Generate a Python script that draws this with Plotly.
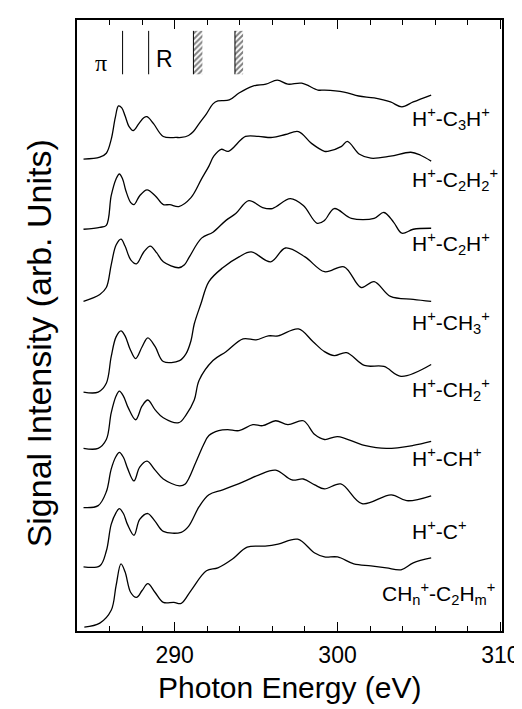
import plotly.graph_objects as go

# ---------------- data ----------------
E_C3H = [284.4, 285.4, 285.8, 286.1, 286.35, 286.55, 286.75, 286.95, 287.2, 287.45, 287.8, 288.1, 288.3, 288.7, 289.3,
         290.1, 290.4, 290.85, 291.15, 291.5, 291.95, 292.35, 292.65, 293.35, 293.95, 294.8, 295.6,
         296.3, 296.95, 297.8, 298.8, 299.2, 300.4, 301.3, 302.25, 303.25, 303.95, 304.65, 305.75]
I_C3H = [47.8, 48.0, 48.4, 49.8, 52.0, 53.2, 53.0, 52.2, 51.1, 50.7, 51.4, 52.0, 52.1, 51.4, 50.1,
         50.0, 50.0, 50.2, 50.6, 51.4, 52.4, 53.4, 53.7, 53.8, 54.5, 55.2, 55.4,
         55.8, 55.4, 55.5, 54.8, 54.8, 54.6, 54.2, 54.0, 53.6, 53.1, 53.6, 54.3]

E_C2H2 = [284.4, 285.4, 285.8, 286.1, 286.4, 286.6, 286.8, 287.0, 287.3, 287.5, 287.85, 288.3, 288.8, 289.3,
          289.7, 290.25, 291.0, 291.65, 292.1, 292.4, 292.85, 293.3, 294.35, 295.15, 296.0, 296.8,
          297.6, 298.4, 299.2, 299.4, 300.25, 300.6, 301.35, 302.05, 303.25, 304.5, 305.1, 305.75]
I_C2H2 = [40.7, 40.9, 41.1, 44.1, 45.8, 46.3, 45.8, 44.6, 43.4, 43.2, 44.1, 44.7, 44.1, 43.2,
          43.2, 43.0, 43.9, 45.8, 47.1, 48.1, 48.8, 48.6, 50.1, 50.1, 50.0, 50.3,
          50.6, 49.4, 48.6, 48.6, 49.1, 49.6, 48.3, 47.9, 48.1, 48.5, 48.2, 47.6]

E_C2H = [284.4, 285.4, 285.8, 286.1, 286.4, 286.7, 286.95, 287.3, 287.65, 288.1, 288.5, 288.9, 289.3,
         290.25, 290.6, 290.9, 291.65, 292.35, 293.15, 293.75, 294.55, 295.4, 296.0, 297.1, 297.9,
         298.75, 299.2, 299.8, 300.85, 302.25, 302.85, 303.45, 303.95, 304.65, 305.75]
I_C2H = [33.4, 34.1, 34.8, 37.1, 39.1, 39.7, 39.0, 37.6, 37.2, 38.4, 39.0, 38.3, 37.4,
         36.8, 37.1, 37.9, 39.8, 40.4, 41.6, 42.3, 43.6, 42.9, 42.8, 43.8, 43.1,
         41.3, 41.6, 42.8, 41.8, 41.8, 42.4, 41.4, 40.3, 40.7, 40.8]

E_CH3 = [284.4, 285.3, 285.8, 286.1, 286.4, 286.7, 286.95, 287.25, 287.6, 288.0, 288.35, 288.8, 289.3,
         290.3, 290.7, 291.0, 291.2, 291.6, 292.1, 292.95, 293.95, 294.7, 295.9, 296.8, 298.0,
         299.2, 300.4, 301.45, 302.25, 303.25, 304.65, 305.75]
I_CH3 = [24.2, 24.2, 25.1, 27.8, 29.8, 30.4, 29.9, 28.6, 27.6, 28.8, 29.7, 28.8, 27.3,
         27.4, 28.1, 29.4, 31.1, 33.1, 35.4, 36.8, 37.9, 38.4, 37.4, 38.8, 37.9,
         36.4, 36.9, 34.8, 35.4, 33.9, 33.6, 33.4]

E_CH2 = [284.4, 285.3, 285.8, 286.1, 286.4, 286.6, 286.85, 287.15, 287.6, 288.0, 288.35, 288.8, 289.3,
         290.25, 290.7, 291.2, 291.5, 292.35, 293.15, 294.2, 295.0, 295.75, 296.35, 297.6, 298.5,
         299.2, 299.8, 300.55, 301.65, 302.85, 303.9, 305.75]
I_CH2 = [18.5, 18.5, 19.4, 22.1, 23.8, 24.3, 23.8, 22.6, 21.4, 22.8, 23.4, 22.4, 21.6,
         21.1, 21.9, 23.4, 25.4, 27.4, 28.3, 29.6, 29.5, 29.9, 29.9, 30.6, 29.3,
         28.3, 27.9, 28.2, 26.9, 26.8, 25.8, 27.0]

E_CH = [284.4, 285.3, 285.8, 286.1, 286.4, 286.6, 286.85, 287.1, 287.5, 287.85, 288.3, 288.8, 289.3,
        290.3, 290.65, 291.3, 291.75, 292.1, 292.7, 293.25, 293.95, 294.8, 295.4, 296.2, 296.95,
        297.9, 298.6, 299.2, 300.0, 301.65, 303.0, 304.65, 305.75]
I_CH = [12.5, 12.7, 14.1, 16.4, 17.7, 18.1, 17.6, 16.5, 15.2, 16.6, 17.2, 16.3, 15.4,
        14.7, 14.9, 17.1, 18.8, 19.8, 20.3, 20.4, 20.3, 20.9, 20.8, 21.3, 20.9,
        21.3, 19.9, 19.4, 19.7, 18.8, 18.5, 18.8, 19.2]

E_C = [284.4, 285.4, 285.8, 286.1, 286.4, 286.6, 286.85, 287.1, 287.5, 287.85, 288.35, 288.8, 289.3,
       290.4, 290.85, 291.5, 292.1, 292.95, 294.2, 295.15, 296.2, 297.2, 297.9, 298.6, 299.2,
       300.2, 301.5, 303.3, 304.25, 305.75]
I_C = [6.5, 6.6, 8.1, 10.8, 12.0, 12.4, 11.9, 10.8, 9.7, 11.3, 11.9, 11.1, 10.1,
       10.0, 10.6, 12.6, 13.8, 14.3, 15.1, 15.8, 16.3, 15.3, 15.4, 14.8, 14.4,
       14.9, 12.9, 13.8, 13.2, 13.7]

E_CC = [284.45, 285.4, 286.1, 286.4, 286.7, 286.95, 287.3, 287.65, 288.0, 288.35, 288.8, 289.3,
        289.95, 290.4, 291.0, 291.95, 292.65, 293.55, 294.45, 295.55, 296.35, 297.55, 298.6, 299.2,
        300.0, 301.0, 302.05, 303.0, 303.9, 304.65, 305.75]
I_CC = [0.4, 0.8, 2.1, 4.6, 6.8, 6.0, 3.9, 3.4, 4.1, 4.8, 3.9, 2.9,
        2.9, 2.8, 4.1, 6.1, 6.4, 7.3, 8.5, 8.6, 8.8, 9.3, 7.9, 7.5,
        7.5, 6.8, 6.6, 6.4, 6.2, 6.9, 7.4]

series_names = ["H<sup>+</sup>-C<sub>3</sub>H<sup>+</sup>",
                "H<sup>+</sup>-C<sub>2</sub>H<sub>2</sub><sup>+</sup>",
                "H<sup>+</sup>-C<sub>2</sub>H<sup>+</sup>",
                "H<sup>+</sup>-CH<sub>3</sub><sup>+</sup>",
                "H<sup>+</sup>-CH<sub>2</sub><sup>+</sup>",
                "H<sup>+</sup>-CH<sup>+</sup>",
                "H<sup>+</sup>-C<sup>+</sup>",
                "CH<sub>n</sub><sup>+</sup>-C<sub>2</sub>H<sub>m</sub><sup>+</sup>"]
series_E = [E_C3H, E_C2H2, E_C2H, E_CH3, E_CH2, E_CH, E_C, E_CC]
series_I = [I_C3H, I_C2H2, I_C2H, I_CH3, I_CH2, I_CH, I_C, I_CC]
label_y = [51.9, 45.7, 39.3, 31.3, 24.5, 17.6, 10.2, 3.8]

# resonance markers at the top
line_marks = [286.8, 288.4]
hatch_lo = [291.15, 293.7]
hatch_hi = [291.7, 294.2]
mark_bottom, mark_top = 56.4, 60.8

X_RANGE = [284.0, 310.1]
Y_RANGE = [0, 61.9]

FONT = "Liberation Sans"

# ---------------- figure ----------------
fig = go.Figure()
for name, E, I in zip(series_names, series_E, series_I):
    fig.add_trace(go.Scatter(x=E, y=I, mode="lines", name=name,
                             line=dict(color="black", width=1.3, shape="spline", smoothing=1.0),
                             showlegend=False, hoverinfo="skip"))

# hatched edge regions
fig.add_trace(go.Bar(x=[(a + b) / 2 for a, b in zip(hatch_lo, hatch_hi)],
                     y=[mark_top - mark_bottom] * len(hatch_lo),
                     base=[mark_bottom] * len(hatch_lo),
                     width=[b - a for a, b in zip(hatch_lo, hatch_hi)],
                     marker=dict(color="white", line=dict(width=0),
                                 pattern=dict(shape="/", fgcolor="black", bgcolor="white",
                                              size=4, solidity=0.5)),
                     showlegend=False, hoverinfo="skip"))
for xv in line_marks + hatch_lo:
    fig.add_shape(type="line", x0=xv, x1=xv, y0=mark_bottom, y1=mark_top,
                  line=dict(color="black", width=1))

ann = []
for i, (name, ly) in enumerate(zip(series_names, label_y)):
    if i < 7:
        ann.append(dict(x=304.48, y=ly, text=name, xanchor="left", yanchor="middle",
                        showarrow=False, font=dict(size=21, color="black", family=FONT)))
    else:
        ann.append(dict(x=309.8, y=ly, text=name, xanchor="right", yanchor="middle",
                        showarrow=False, font=dict(size=21, color="black", family=FONT)))
ann.append(dict(x=285.5, y=57.5, text="π", showarrow=False, xanchor="center", yanchor="middle",
                font=dict(size=24, color="black", family="Liberation Serif")))
ann.append(dict(x=289.36, y=58.0, text="R", showarrow=False, xanchor="center", yanchor="middle",
                font=dict(size=23, color="black", family=FONT)))
ann.append(dict(xref="paper", yref="paper", x=0.5, y=-0.092, text="Photon Energy (eV)",
                showarrow=False, xanchor="center", yanchor="middle",
                font=dict(size=30, color="black", family=FONT)))
ann.append(dict(xref="paper", yref="paper", x=-0.0905, y=0.47, text="Signal Intensity (arb. Units)",
                textangle=-90, showarrow=False, xanchor="center", yanchor="middle",
                font=dict(size=34, color="black", family=FONT)))

fig.update_layout(
    width=522, height=709,
    margin=dict(l=69, r=22, t=10, b=86),
    paper_bgcolor="white", plot_bgcolor="white",
    barmode="overlay",
    annotations=ann,
    xaxis=dict(range=X_RANGE, showgrid=False, zeroline=False,
               showline=True, linecolor="black", linewidth=1.5, mirror="allticks",
               ticks="inside", ticklen=9, tickwidth=1.2, tickcolor="black",
               tick0=290, dtick=10, ticklabelstandoff=3,
               minor=dict(ticks="inside", dtick=2, tick0=290, ticklen=5, tickwidth=1.2, tickcolor="black"),
               tickfont=dict(size=23, color="black", family=FONT)),
    yaxis=dict(range=Y_RANGE, showgrid=False, zeroline=False, showticklabels=False,
               showline=True, linecolor="black", linewidth=1.5, mirror=True, ticks=""),
)

fig.write_html("out.html")
